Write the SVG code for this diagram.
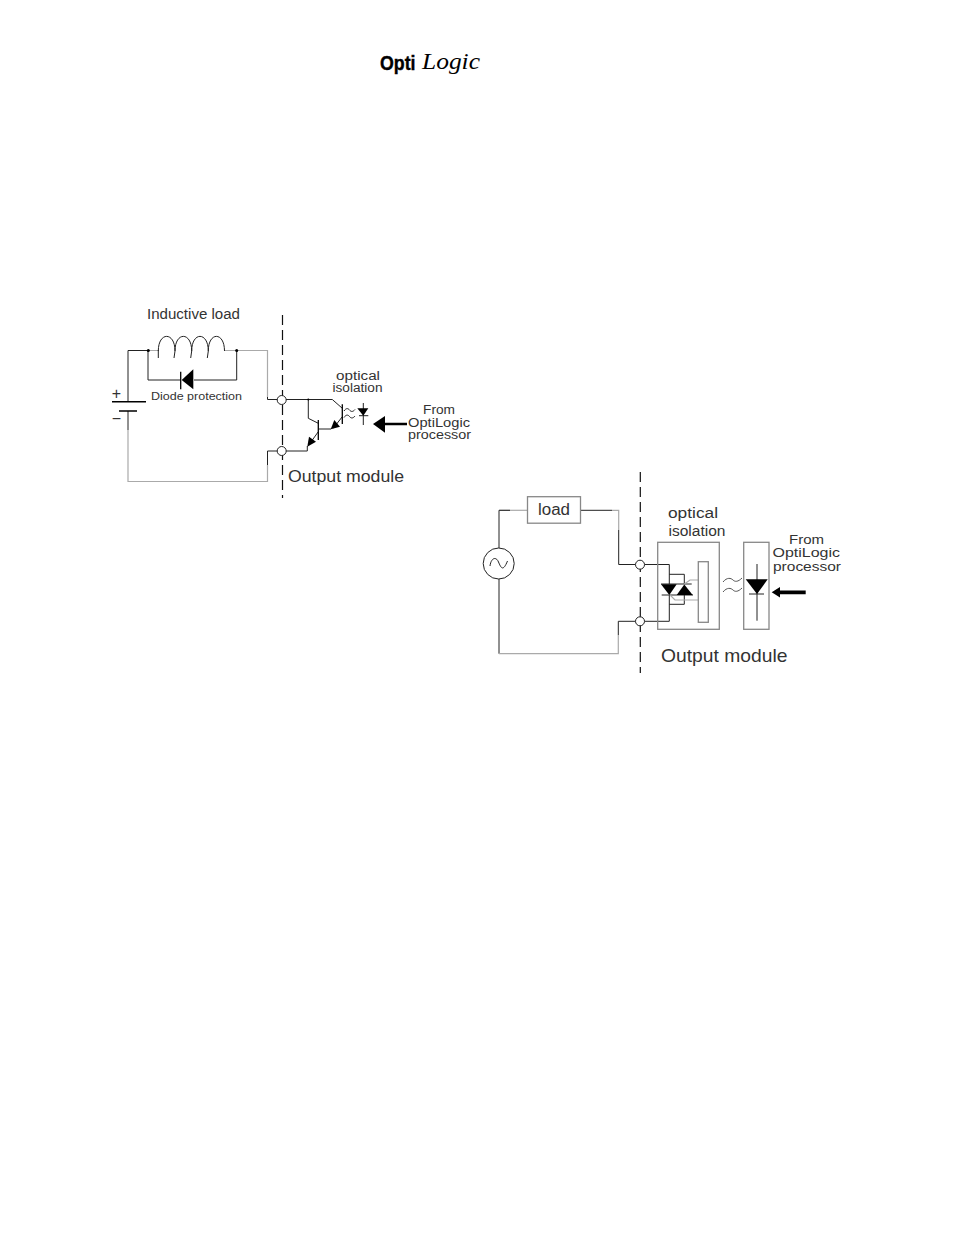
<svg xmlns="http://www.w3.org/2000/svg" width="954" height="1235" viewBox="0 0 954 1235">
<style>
text{font-family:"Liberation Sans",Arial,sans-serif;fill:#333}
.w{fill:none;stroke:#222;stroke-width:1}
.g{fill:none;stroke:#aaa;stroke-width:1.200}
.b{fill:#000;stroke:none}
.c{fill:#fff;stroke:#222;stroke-width:1}
.d{fill:none;stroke:#111;stroke-width:1.200;stroke-dasharray:10 5}
.k{fill:none;stroke:#000;stroke-width:1.300}
.o{stroke:#888;stroke-width:1.300}
.s12{font-size:12px}.s13{font-size:13px}.s14{font-size:14px}
</style>
<rect width="954" height="1235" fill="#fff"/>
<g id="logo">
<text x="380" y="69.500" style="font-weight:700;font-size:20px;fill:#000;stroke:#000;stroke-width:.4" textLength="35.500" lengthAdjust="spacingAndGlyphs">Opti</text>
<text x="422" y="69" style="font-family:'Liberation Serif',serif;font-style:italic;font-size:24px;fill:#000" textLength="58" lengthAdjust="spacingAndGlyphs">Logic</text>
</g>
<g id="connectors">
<path class="w" d="M128 402V350.500H148M148 350.500V380H180"/>
<path class="w" d="M194 380H236.700V350.500"/>
<path class="g" d="M148 350.500H158.300M224.500 350.500H267.500V397"/>
<path class="w" d="M267.500 397V399.500H277"/>
<path class="g" d="M128 430V481.500H267.500V465"/>
<path class="w" d="M128 411V430M267.500 465V451H277"/>
<path class="w" d="M286 399.500H332.300L342.300 408.300M308.300 399.500V418.300L318.300 423.300M318.300 431.700L310 443.300M286 451H307.300V446M342.300 416.700L333.300 428.300M331 429H318.300"/>
<path class="g" d="M499.500 510.300H527"/>
<path class="w" d="M499 548V510.300H510"/>
<path class="w" d="M581 510.300H612"/>
<path class="g" d="M612 510.300H618.700V530"/>
<path class="w" d="M618.700 530V564.500H635.500"/>
<path class="w" d="M499 579V653.700"/>
<path class="g" d="M499 653.700H618.300V635"/>
<path class="w" d="M618.300 635V621.300H635.500"/>
<path class="w" d="M644.500 564.500H669.300V584M669.300 574.300H684.300V584M661 584H691.700M661.700 595H693M644.500 621.300H669.300V595M669.300 604.300H684.300V595"/>
<path class="g" d="M684.300 584L690 580H698.300M670 595L675 600H698.300"/>
</g>
<g id="inductive-load">
<path class="w" d="M158.300 351C158.300 331.500 175 331.500 175 351L174 358M175 351C175 331.500 191.700 331.500 191.700 351L190.700 358M191.700 351C191.700 331.500 208.300 331.500 208.300 351L207.300 358M208.300 351C208.300 331.500 224.500 331.500 224.500 351"/>
<path class="w" d="M158.300 350V358"/>
<circle class="b" cx="148.300" cy="350.500" r="1.500"/>
<circle class="b" cx="236.700" cy="350.500" r="1.500"/>
<path class="b" d="M181.700 380L193.300 369.300V389.300Z"/>
<path class="k" d="M180.700 371.700V389.300"/>
<text class="s14" x="147" y="318.500" textLength="93" lengthAdjust="spacingAndGlyphs">Inductive load</text>
<text x="151" y="400" style="font-size:11.500px" textLength="91" lengthAdjust="spacingAndGlyphs">Diode protection</text>
</g>
<g id="battery">
<path d="M112 401.700H146M119 411H137" fill="none" stroke="#000" stroke-width="1.600"/>
<text x="116.500" y="398.500" style="font-size:16px;text-anchor:middle">+</text>
<text x="116.500" y="424" style="font-size:16px;text-anchor:middle">−</text>
</g>
<g id="divider-left"><path class="d" d="M282.500 315V498"/></g>
<g id="terminals-left">
<circle class="c" cx="281.700" cy="400" r="4.500"/>
<circle class="c" cx="281.700" cy="451" r="4.500"/>
<circle class="b" cx="308.300" cy="399.500" r="1"/>
</g>
<g id="transistors">
<path class="k" d="M342.300 404.300V424M318.300 420V440"/>
<path class="b" d="M330.700 429.300L334.300 420L340 426.700Z"/>
<path class="b" d="M307.300 446.700L309 436.700L316 441.700Z"/>
</g>
<g id="isolation-left">
<path class="w" d="M344 411C346 408 348 408 349.500 410S353 412 355 409.500M344 417.500C346 414.500 348 414.500 349.500 416.500S353 418.500 355 416"/>
<path class="w" d="M363.300 403V425M359 415.700H368.300"/>
<path class="b" d="M357.300 408.300H368.300L363.300 415.700Z"/>
<text class="s12" x="336" y="380" textLength="44" lengthAdjust="spacingAndGlyphs">optical</text>
<text class="s12" x="332.500" y="392" textLength="50" lengthAdjust="spacingAndGlyphs">isolation</text>
</g>
<g id="arrow-left">
<path class="b" d="M373 424L385 416V422.700H407V425.300H385V432.700Z"/>
<text class="s12" x="423" y="413.500" textLength="32" lengthAdjust="spacingAndGlyphs">From</text>
<text class="s12" x="408" y="426.500" textLength="62" lengthAdjust="spacingAndGlyphs">OptiLogic</text>
<text class="s12" x="408" y="439" textLength="63" lengthAdjust="spacingAndGlyphs">processor</text>
</g>
<text id="output-left" x="288" y="481.500" style="font-size:17px" textLength="116" lengthAdjust="spacingAndGlyphs">Output module</text>
<g id="load">
<rect x="527.500" y="496.700" width="53" height="26.500" fill="#fff" class="o"/>
<text x="538" y="515" style="font-size:16px" textLength="32" lengthAdjust="spacingAndGlyphs">load</text>
</g>
<g id="ac-source">
<circle cx="498.700" cy="563.500" r="15.500" fill="#fff" stroke="#222"/>
<path class="w" d="M490 566C491 558 496 556 498.500 562S503 572 507.500 561"/>
</g>
<g id="divider-right"><path class="d" d="M640.300 472V673"/></g>
<g id="terminals-right">
<circle class="c" cx="640" cy="564.700" r="4.500"/>
<circle class="c" cx="640" cy="621.300" r="4.500"/>
</g>
<g id="triac-box">
<rect x="657.700" y="542.300" width="61.600" height="87" fill="none" class="o"/>
<rect x="698.300" y="561.700" width="10" height="60.600" fill="#fff" class="o"/>
<path class="b" d="M661 584.300H676.700L669.300 595Z"/>
<path class="b" d="M676.700 595H692.700L684.300 584.500Z"/>
<text class="s14" x="668" y="517.500" textLength="50" lengthAdjust="spacingAndGlyphs">optical</text>
<text class="s14" x="668.500" y="535.500" textLength="57" lengthAdjust="spacingAndGlyphs">isolation</text>
</g>
<g id="isolation-right">
<path d="M723 582C727 577 731 578 733 580S738 582 742 578M723 592C727 587 731 588 733 590S738 592 742 588" fill="none" stroke="#555"/>
</g>
<g id="led-box">
<rect x="743.700" y="542.300" width="25.300" height="87" fill="none" class="o"/>
<path class="w" d="M757 564V620.700M749 594H764"/>
<path class="b" d="M745.700 579.300H767.700L757 594Z"/>
</g>
<g id="arrow-right">
<path class="b" d="M771.700 592.300L780 587V590.500H805.700V594.200H780V597.500Z"/>
<text x="789" y="543.500" style="font-size:13.500px" textLength="35" lengthAdjust="spacingAndGlyphs">From</text>
<text x="772.500" y="557" style="font-size:13.500px" textLength="67.500" lengthAdjust="spacingAndGlyphs">OptiLogic</text>
<text x="773" y="570.500" style="font-size:13.500px" textLength="68" lengthAdjust="spacingAndGlyphs">processor</text>
</g>
<text id="output-right" x="661" y="662" style="font-size:18.500px" textLength="126.500" lengthAdjust="spacingAndGlyphs">Output module</text>
</svg>
